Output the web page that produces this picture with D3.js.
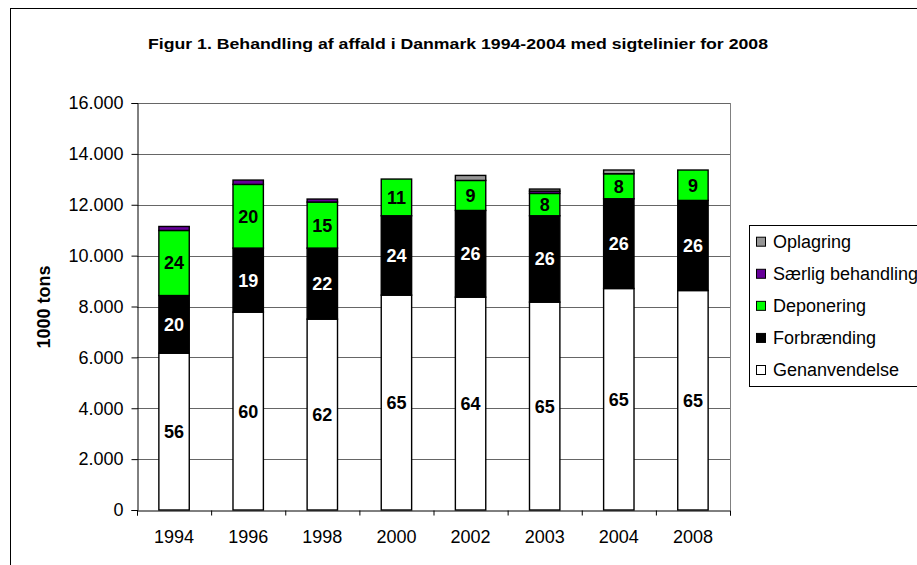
<!DOCTYPE html>
<html>
<head>
<meta charset="utf-8">
<script src="https://cdn.jsdelivr.net/npm/d3@7"></script>
<style>
  body { margin: 0; background: #fff; }
  text { font-family: "Liberation Sans", Arial, sans-serif; }
</style>
</head>
<body>
<div id="chart"></div>
<script>
// Values (1000 tons) and the printed percentage labels
const years = ["1994", "1996", "1998", "2000", "2002", "2003", "2004", "2008"];
const genanvendelse = [6165, 7778, 7503, 8447, 8368, 8172, 8707, 8628];
const forbraending = [2266, 2518, 2793, 3120, 3408, 3395, 3529, 3542];
const deponering = [2558, 2504, 1810, 1443, 1180, 878, 983, 1195];
const saerlig = [157, 170, 118, 0, 0, 90, 0, 0];
const oplagring = [0, 0, 0, 0, 197, 82, 146, 0];

const pctGenanvendelse = [56, 60, 62, 65, 64, 65, 65, 65];
const pctForbraending = [20, 19, 22, 24, 26, 26, 26, 26];
const pctDeponering = [24, 20, 15, 11, 9, 8, 8, 9];

const seriesNames = ["Genanvendelse", "Forbrænding", "Deponering", "Særlig behandling", "Oplagring"];
const seriesColors = ["#ffffff", "#000000", "#00ff00", "#660099", "#969696"];
const yTicks = [0, 2000, 4000, 6000, 8000, 10000, 12000, 14000, 16000];

function drawChart(id) {
    const width = 917;
    const height = 565;
    const plot = {left: 137, right: 730, top: 103, bottom: 510};

    const rows = years.map(function(y, i) {
        return {
            year: y,
            "Genanvendelse": genanvendelse[i],
            "Forbrænding": forbraending[i],
            "Deponering": deponering[i],
            "Særlig behandling": saerlig[i],
            "Oplagring": oplagring[i]
        };
    });
    const labels = {
        "Genanvendelse": pctGenanvendelse,
        "Forbrænding": pctForbraending,
        "Deponering": pctDeponering
    };

    const stacked = d3.stack().keys(seriesNames)(rows);

    const svg = d3.select(id)
        .append("svg")
        .attr("width", width)
        .attr("height", height);

    // outer chart frame (runs off the right/bottom of the picture)
    svg.append("rect")
        .attr("x", 10.5)
        .attr("y", 8.5)
        .attr("width", 1000)
        .attr("height", 1000)
        .attr("fill", "#fff")
        .attr("stroke", "#000");

    svg.append("text")
        .attr("x", 458)
        .attr("y", 49)
        .attr("text-anchor", "middle")
        .attr("font-size", "15px")
        .attr("font-weight", "bold")
        .attr("textLength", 620)
        .attr("lengthAdjust", "spacingAndGlyphs")
        .text("Figur 1. Behandling af affald i Danmark 1994-2004 med sigtelinier for 2008");

    const xScale = d3.scaleBand()
        .domain(years)
        .range([plot.left, plot.right])
        .paddingInner(0.59)
        .paddingOuter(0.295);

    const yScale = d3.scaleLinear()
        .domain([0, 16000])
        .range([plot.bottom, plot.top]);

    // gridlines
    svg.append("g")
        .selectAll("line")
        .data(yTicks.slice(1))
        .enter()
        .append("line")
            .attr("x1", plot.left)
            .attr("x2", plot.right)
            .attr("y1", function(d) { return Math.round(yScale(d)) + 0.5; })
            .attr("y2", function(d) { return Math.round(yScale(d)) + 0.5; })
            .attr("stroke", "#666")
            .attr("stroke-width", 1);

    // plot area right border
    svg.append("line")
        .attr("x1", plot.right + 0.5)
        .attr("x2", plot.right + 0.5)
        .attr("y1", plot.top)
        .attr("y2", plot.bottom)
        .attr("stroke", "#808080");

    // bars
    const groups = svg.append("g")
        .selectAll("g")
        .data(stacked)
        .enter()
        .append("g")
            .attr("fill", function(d, i) { return seriesColors[i]; });

    groups.selectAll("rect")
        .data(function(d) { return d.filter(function(s) { return s[1] > s[0]; }); })
        .enter()
        .append("rect")
            .attr("x", function(d) { return xScale(d.data.year); })
            .attr("y", function(d) { return yScale(d[1]); })
            .attr("width", xScale.bandwidth())
            .attr("height", function(d) { return yScale(d[0]) - yScale(d[1]); })
            .attr("stroke", "#000")
            .attr("stroke-width", 1.4);

    // percentage labels
    stacked.forEach(function(layer) {
        const pct = labels[layer.key];
        if (!pct) return;
        svg.append("g")
            .selectAll("text")
            .data(layer)
            .enter()
            .append("text")
                .attr("x", function(d) { return xScale(d.data.year) + xScale.bandwidth() / 2; })
                .attr("y", function(d) { return (yScale(d[0]) + yScale(d[1])) / 2; })
                .attr("dy", "0.36em")
                .attr("text-anchor", "middle")
                .attr("font-size", "18px")
                .attr("font-weight", "bold")
                .attr("fill", layer.key === "Forbrænding" ? "#fff" : "#000")
                .text(function(d, i) { return pct[i]; });
    });

    // axes
    const yAxis = d3.axisLeft(yScale)
        .tickValues(yTicks)
        .tickSize(6)
        .tickPadding(8)
        .tickFormat(function(d) { return d3.format(",")(d).replace(/,/g, "."); });

    svg.append("g")
        .attr("transform", `translate(${plot.left + 0.5},0)`)
        .call(yAxis)
        .call(function(g) {
            g.selectAll("text").attr("font-size", "18px").attr("fill", "#000").attr("font-family", null);
            g.select(".domain").attr("stroke", "#000");
        });

    const xAxis = d3.axisBottom(d3.scaleLinear().domain([0, years.length]).range([plot.left, plot.right]))
        .ticks(years.length)
        .tickSize(5)
        .tickFormat("");

    svg.append("g")
        .attr("transform", `translate(0,${plot.bottom + 0.5})`)
        .call(xAxis)
        .call(function(g) { g.select(".domain").attr("stroke", "#000"); });

    svg.append("g")
        .selectAll("text")
        .data(years)
        .enter()
        .append("text")
            .attr("x", function(d) { return xScale(d) + xScale.bandwidth() / 2; })
            .attr("y", 543)
            .attr("text-anchor", "middle")
            .attr("font-size", "18px")
            .text(function(d) { return d; });

    svg.append("text")
        .attr("transform", "translate(50,307) rotate(-90)")
        .attr("text-anchor", "middle")
        .attr("font-size", "18px")
        .attr("font-weight", "bold")
        .text("1000 tons");

    // legend
    const legend = svg.append("g");
    legend.append("rect")
        .attr("x", 749.5)
        .attr("y", 225.5)
        .attr("width", 200)
        .attr("height", 161)
        .attr("fill", "#fff")
        .attr("stroke", "#000");

    const legendItems = seriesNames.slice().reverse();
    const itemY = d3.scalePoint().domain(legendItems).range([241.7, 370]);

    legend.selectAll(".swatch")
        .data(legendItems)
        .enter()
        .append("rect")
            .attr("class", "swatch")
            .attr("x", 756.5)
            .attr("y", function(d) { return itemY(d) - 4.5; })
            .attr("width", 9)
            .attr("height", 9)
            .attr("fill", function(d) { return seriesColors[seriesNames.indexOf(d)]; })
            .attr("stroke", "#000");

    legend.selectAll(".label")
        .data(legendItems)
        .enter()
        .append("text")
            .attr("class", "label")
            .attr("x", 773)
            .attr("y", function(d) { return itemY(d); })
            .attr("dy", "0.36em")
            .attr("font-size", "18px")
            .text(function(d) { return d; });
}

drawChart("#chart");
</script>
</body>
</html>
